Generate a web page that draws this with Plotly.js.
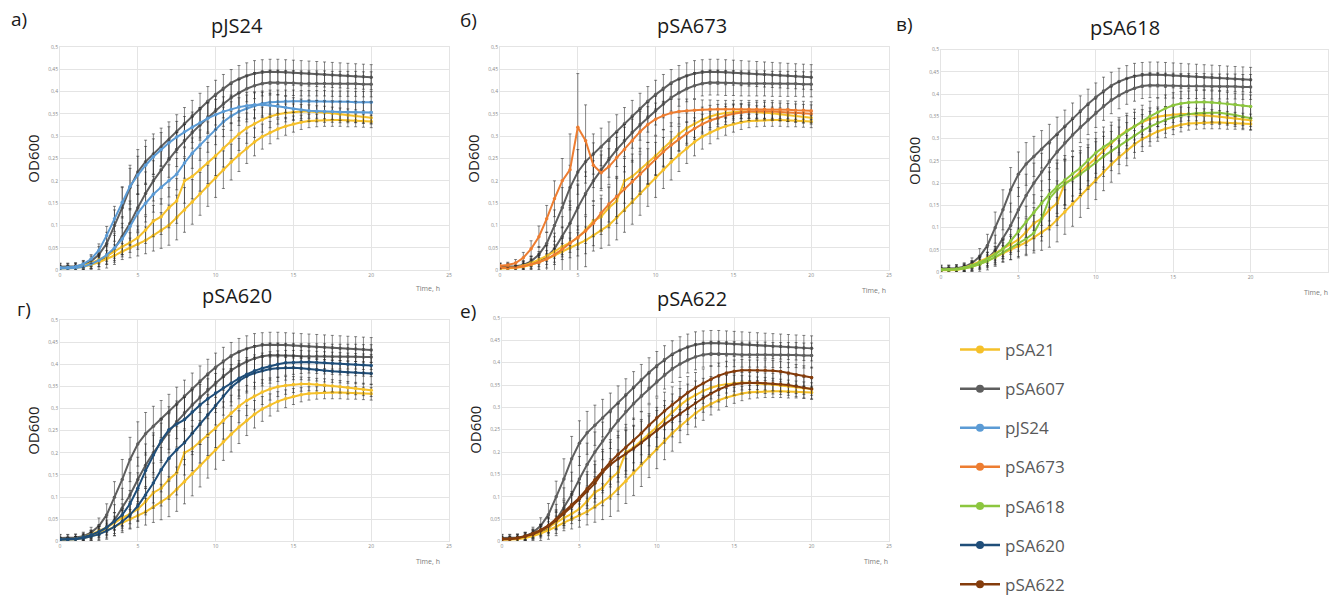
<!DOCTYPE html>
<html>
<head>
<meta charset="utf-8">
<script src="https://cdn.plot.ly/plotly-3.0.1.min.js"></script>
<style>
html,body{margin:0;padding:0;background:#fff;}
#chart{width:1329px;height:602px;}
</style>
</head>
<body>
<div id="chart"></div>
<script>
// Time, h
const timeH = [0,0.5,1,1.5,2,2.5,3,3.5,4,4.5,5,5.5,6,6.5,7,7.5,8,8.5,9,9.5,10,10.5,11,11.5,12,12.5,13,13.5,14,14.5,15,15.5,16,16.5,17,17.5,18,18.5,19,19.5,20];

// Controls (same in every panel), two replicate experiments each
const pSA607_A = [0.008,0.008,0.009,0.012,0.02,0.035,0.06,0.1,0.14,0.185,0.22,0.243,0.26,0.276,0.292,0.31,0.328,0.345,0.362,0.378,0.393,0.407,0.419,0.428,0.435,0.44,0.443,0.444,0.444,0.443,0.442,0.441,0.44,0.439,0.438,0.437,0.436,0.435,0.434,0.433,0.432];
const pSA607_B = [0.007,0.007,0.008,0.01,0.014,0.02,0.03,0.048,0.075,0.105,0.14,0.172,0.2,0.225,0.248,0.27,0.29,0.308,0.325,0.342,0.357,0.372,0.386,0.397,0.406,0.413,0.418,0.42,0.42,0.419,0.419,0.418,0.418,0.418,0.418,0.417,0.417,0.417,0.417,0.416,0.416];
const pSA21_A = [0.005,0.005,0.006,0.01,0.016,0.024,0.032,0.042,0.053,0.062,0.073,0.09,0.11,0.12,0.14,0.155,0.2,0.21,0.225,0.24,0.256,0.273,0.29,0.305,0.318,0.328,0.337,0.344,0.349,0.352,0.354,0.355,0.355,0.354,0.353,0.351,0.349,0.347,0.345,0.343,0.341];
const pSA21_B = [0.004,0.004,0.005,0.008,0.012,0.018,0.025,0.033,0.042,0.05,0.058,0.067,0.078,0.089,0.101,0.118,0.135,0.153,0.171,0.189,0.207,0.225,0.242,0.258,0.273,0.287,0.299,0.308,0.316,0.322,0.327,0.331,0.334,0.335,0.336,0.336,0.336,0.335,0.335,0.334,0.333];

// Tested plasmids, two replicate experiments each
const pJS24_A = [0.006,0.006,0.008,0.014,0.025,0.045,0.078,0.115,0.152,0.188,0.213,0.235,0.254,0.27,0.285,0.298,0.31,0.32,0.33,0.34,0.348,0.355,0.36,0.365,0.368,0.37,0.37,0.369,0.367,0.364,0.361,0.359,0.357,0.356,0.355,0.355,0.354,0.354,0.354,0.353,0.353];
const pJS24_B = [0.004,0.004,0.005,0.008,0.014,0.022,0.034,0.05,0.07,0.098,0.128,0.15,0.17,0.186,0.2,0.215,0.24,0.262,0.28,0.298,0.315,0.332,0.345,0.355,0.362,0.368,0.373,0.376,0.377,0.378,0.378,0.378,0.378,0.378,0.378,0.377,0.377,0.377,0.376,0.376,0.376];
const pSA673_A = [0.01,0.012,0.016,0.028,0.048,0.075,0.115,0.16,0.2,0.225,0.32,0.29,0.235,0.218,0.232,0.252,0.27,0.29,0.31,0.326,0.338,0.346,0.352,0.355,0.357,0.358,0.359,0.36,0.36,0.36,0.36,0.36,0.36,0.36,0.36,0.36,0.359,0.359,0.358,0.358,0.357];
const pSA673_B = [0.005,0.005,0.006,0.009,0.013,0.018,0.025,0.035,0.047,0.06,0.073,0.088,0.105,0.128,0.148,0.165,0.182,0.198,0.215,0.232,0.25,0.265,0.28,0.294,0.306,0.317,0.327,0.335,0.341,0.346,0.35,0.353,0.355,0.356,0.356,0.355,0.354,0.353,0.352,0.351,0.35];
const pSA618_A = [0.006,0.006,0.007,0.01,0.015,0.022,0.03,0.04,0.052,0.07,0.092,0.113,0.134,0.155,0.175,0.192,0.207,0.221,0.234,0.252,0.268,0.281,0.293,0.305,0.317,0.328,0.339,0.35,0.359,0.368,0.375,0.379,0.381,0.382,0.382,0.381,0.38,0.378,0.376,0.374,0.372];
const pSA618_B = [0.005,0.005,0.006,0.008,0.012,0.018,0.025,0.034,0.044,0.054,0.065,0.075,0.088,0.12,0.165,0.185,0.198,0.209,0.22,0.233,0.247,0.26,0.272,0.284,0.296,0.307,0.318,0.327,0.335,0.342,0.348,0.352,0.355,0.357,0.358,0.358,0.358,0.356,0.353,0.349,0.346];
const pSA620_A = [0.005,0.005,0.006,0.01,0.015,0.022,0.032,0.045,0.06,0.085,0.12,0.16,0.195,0.228,0.252,0.265,0.275,0.292,0.308,0.322,0.335,0.346,0.357,0.368,0.377,0.385,0.391,0.396,0.4,0.403,0.404,0.405,0.405,0.404,0.403,0.402,0.401,0.4,0.399,0.398,0.397];
const pSA620_B = [0.004,0.004,0.005,0.007,0.011,0.016,0.024,0.033,0.045,0.06,0.08,0.105,0.132,0.162,0.188,0.207,0.223,0.244,0.265,0.286,0.307,0.328,0.348,0.362,0.373,0.38,0.385,0.389,0.391,0.392,0.392,0.391,0.389,0.387,0.385,0.384,0.383,0.382,0.381,0.38,0.379];
const pSA622_A = [0.006,0.006,0.008,0.012,0.018,0.026,0.036,0.05,0.066,0.082,0.098,0.118,0.138,0.16,0.178,0.195,0.21,0.226,0.242,0.26,0.277,0.292,0.306,0.32,0.333,0.344,0.354,0.363,0.371,0.377,0.381,0.383,0.383,0.383,0.383,0.382,0.38,0.377,0.373,0.37,0.367];
const pSA622_B = [0.005,0.005,0.007,0.011,0.016,0.024,0.034,0.047,0.062,0.078,0.095,0.112,0.13,0.155,0.172,0.185,0.196,0.208,0.221,0.235,0.249,0.262,0.274,0.286,0.298,0.31,0.321,0.331,0.34,0.347,0.352,0.354,0.355,0.355,0.354,0.353,0.352,0.35,0.347,0.344,0.341];

// Standard deviations (error bars)
const err607 = [0.008,0.008,0.008,0.009,0.012,0.018,0.025,0.035,0.045,0.05,0.05,0.048,0.045,0.042,0.04,0.038,0.036,0.035,0.034,0.033,0.032,0.031,0.03,0.03,0.029,0.029,0.028,0.028,0.028,0.028,0.028,0.028,0.028,0.028,0.028,0.028,0.028,0.028,0.028,0.028,0.028];
const err21 = [0.004,0.004,0.005,0.006,0.008,0.01,0.012,0.015,0.018,0.022,0.026,0.03,0.035,0.04,0.045,0.05,0.05,0.05,0.048,0.046,0.044,0.042,0.04,0.037,0.034,0.031,0.028,0.025,0.022,0.02,0.018,0.016,0.015,0.014,0.014,0.014,0.014,0.014,0.014,0.014,0.014];
const errJS24 = [0.006,0.006,0.007,0.008,0.01,0.014,0.02,0.028,0.035,0.04,0.042,0.042,0.04,0.038,0.036,0.035,0.034,0.034,0.034,0.034,0.034,0.033,0.032,0.031,0.03,0.029,0.028,0.027,0.026,0.025,0.025,0.024,0.024,0.024,0.024,0.024,0.024,0.024,0.024,0.024,0.024];
const errSA673 = [0.006,0.006,0.008,0.012,0.018,0.024,0.03,0.04,0.05,0.08,0.12,0.08,0.05,0.04,0.04,0.045,0.05,0.048,0.045,0.04,0.036,0.032,0.03,0.028,0.026,0.024,0.022,0.021,0.02,0.02,0.02,0.02,0.02,0.02,0.02,0.02,0.02,0.02,0.02,0.02,0.02];
const errSA618 = [0.006,0.006,0.007,0.008,0.01,0.012,0.015,0.018,0.022,0.026,0.03,0.035,0.04,0.05,0.06,0.06,0.055,0.05,0.048,0.047,0.046,0.045,0.044,0.042,0.04,0.038,0.036,0.034,0.032,0.03,0.028,0.027,0.026,0.026,0.026,0.026,0.026,0.026,0.026,0.026,0.026];
const errSA620 = [0.005,0.005,0.006,0.007,0.009,0.012,0.016,0.02,0.025,0.03,0.035,0.04,0.045,0.05,0.052,0.052,0.05,0.048,0.046,0.045,0.044,0.043,0.042,0.04,0.038,0.036,0.034,0.032,0.03,0.028,0.027,0.026,0.025,0.025,0.025,0.025,0.025,0.025,0.025,0.025,0.025];
const errSA622 = [0.006,0.006,0.007,0.008,0.01,0.013,0.017,0.021,0.026,0.03,0.034,0.038,0.042,0.046,0.05,0.052,0.052,0.05,0.048,0.046,0.044,0.042,0.04,0.038,0.036,0.034,0.032,0.03,0.028,0.026,0.025,0.024,0.023,0.023,0.023,0.023,0.023,0.023,0.023,0.023,0.023];

const strainNames = ["pSA21","pSA607","pJS24","pSA673","pSA618","pSA620","pSA622"];
const strainColors = {pSA21:"#F5C02A", pSA607:"#5E5E5E", pJS24:"#5B9BD5", pSA673:"#ED7D31", pSA618:"#8CC63F", pSA620:"#1F4E79", pSA622:"#843C0C"};
const panelLetters = ["а)","б)","в)","г)","е)"];
const panelPlasmids = ["pJS24","pSA673","pSA618","pSA620","pSA622"];
const yTitle = "OD600";
const xTitle = "Time, h";

const panelData = {
  pJS24: [pJS24_A, pJS24_B, errJS24],
  pSA673: [pSA673_A, pSA673_B, errSA673],
  pSA618: [pSA618_A, pSA618_B, errSA618],
  pSA620: [pSA620_A, pSA620_B, errSA620],
  pSA622: [pSA622_A, pSA622_B, errSA622]
};

// Panel geometry (pixels in the 1329x602 frame): [x0, x25, yBottom, yTop]
const W = 1329, H = 602;
const panelBoxes = [
  [60, 449, 289, 50],
  [500, 889, 289, 50],
  [941, 1328, 291, 53],
  [60, 449, 579, 342],
  [502, 889, 579, 340]
];
const titlePos = [[237,27],[692,27],[1125,29],[237,316],[692,319]];
const letterPos = [[19,20],[468,21],[904,26],[24,330],[468,333]];
const timePos = [[428,309],[874,311],[1316,313],[428,600],[876,600]];

const traces = [];
const layout = {
  width: W, height: H,
  margin: {l:0, r:0, t:0, b:0},
  paper_bgcolor: "#ffffff",
  plot_bgcolor: "#ffffff",
  separators: ",.",
  font: {family: "Open Sans, Noto Sans, sans-serif", color: "#222"},
  showlegend: true,
  legend: {
    x: 955/W, y: 1 - 355/H, xanchor: "left", yanchor: "top",
    font: {size: 17, color: "#595959", family: "Open Sans, Noto Sans, sans-serif"},
    tracegroupgap: 14, bgcolor: "rgba(0,0,0,0)", itemwidth: 40
  },
  annotations: [],
  hovermode: false
};

function addSeries(ax, ay, y, err, color, group) {
  traces.push({
    type: "scatter", mode: "lines+markers",
    x: timeH, y: y, xaxis: ax, yaxis: ay,
    line: {color: color, width: 2},
    marker: {color: color, size: 3.5},
    error_y: {type: "data", array: err, visible: true, color: "rgba(40,40,40,0.7)", thickness: 0.8, width: 1.5},
    showlegend: false, legendgroup: group, hoverinfo: "skip"
  });
}

panelPlasmids.forEach(function(pl, i) {
  const n = i + 1;
  const ax = n === 1 ? "x" : "x" + n;
  const ay = n === 1 ? "y" : "y" + n;
  const xk = n === 1 ? "xaxis" : "xaxis" + n;
  const yk = n === 1 ? "yaxis" : "yaxis" + n;
  const b = panelBoxes[i];
  layout[xk] = {
    domain: [b[0]/W, b[1]/W], anchor: ay, range: [0, 25], tick0: 0, dtick: 5,
    showgrid: true, gridcolor: "#e4e4e4", gridwidth: 1, zeroline: false,
    showline: true, linecolor: "#e4e4e4", linewidth: 1, mirror: true,
    ticks: "", tickfont: {size: 5, color: "#8a8a8a"}, fixedrange: true
  };
  layout[yk] = {
    domain: [1 - b[2]/H, 1 - b[3]/H], anchor: ax, range: [0, 0.5], tick0: 0, dtick: 0.05,
    showgrid: true, gridcolor: "#e4e4e4", gridwidth: 1, zeroline: false,
    showline: true, linecolor: "#e4e4e4", linewidth: 1, mirror: true,
    ticks: "", tickfont: {size: 5, color: "#8a8a8a"}, fixedrange: true,
    title: {text: yTitle, font: {size: 15, color: "#222"}, standoff: 4}
  };
  addSeries(ax, ay, pSA607_A, err607, strainColors.pSA607, "pSA607");
  addSeries(ax, ay, pSA607_B, err607, strainColors.pSA607, "pSA607");
  addSeries(ax, ay, pSA21_B, err21, strainColors.pSA21, "pSA21");
  addSeries(ax, ay, pSA21_A, err21, strainColors.pSA21, "pSA21");
  const d = panelData[pl];
  addSeries(ax, ay, d[1], d[2], strainColors[pl], pl);
  addSeries(ax, ay, d[0], d[2], strainColors[pl], pl);

  layout.annotations.push({
    text: pl, xref: "paper", yref: "paper", x: titlePos[i][0]/W, y: 1 - titlePos[i][1]/H,
    xanchor: "center", yanchor: "middle", showarrow: false, font: {size: 20, color: "#1a1a1a"}
  });
  layout.annotations.push({
    text: panelLetters[i], xref: "paper", yref: "paper", x: letterPos[i][0]/W, y: 1 - letterPos[i][1]/H,
    xanchor: "center", yanchor: "middle", showarrow: false, font: {size: 19, color: "#1a1a1a"}
  });
  layout.annotations.push({
    text: xTitle, xref: "paper", yref: "paper", x: timePos[i][0]/W, y: 1 - timePos[i][1]/H,
    xanchor: "center", yanchor: "middle", showarrow: false, font: {size: 7, color: "#7a7a7a"}
  });
});

// Legend entries (one per strain)
strainNames.forEach(function(s, k) {
  traces.push({
    type: "scatter", mode: "lines+markers", x: [null], y: [null], xaxis: "x", yaxis: "y",
    name: s, legendgroup: "leg" + k, legendrank: k + 1,
    line: {color: strainColors[s], width: 2.5}, marker: {color: strainColors[s], size: 8},
    showlegend: true, hoverinfo: "skip"
  });
});

Plotly.newPlot("chart", traces, layout, {displayModeBar: false, staticPlot: true});
</script>
</body>
</html>
